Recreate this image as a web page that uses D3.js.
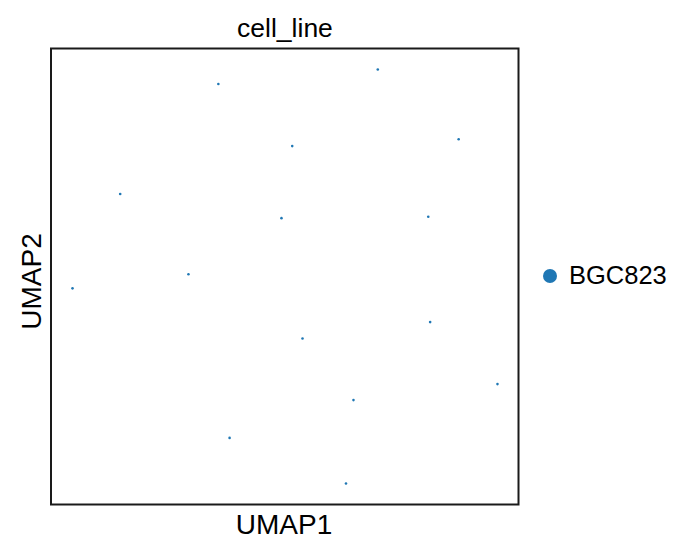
<!DOCTYPE html>
<html>
<head>
<meta charset="utf-8">
<script src="https://cdn.jsdelivr.net/npm/d3@7"></script>
<style>
  body { margin: 0; background: #fff; }
  text { font-family: "Liberation Sans", Arial, sans-serif; fill: #000; }
</style>
</head>
<body>
<svg id="chart" width="695" height="556"></svg>
<script>
// Data (UMAP coordinates, arbitrary units)
const umap1 = [3.58, 1.48, 2.94, 6.99, 8.72, 5.16, 4.93, 8.07, 0.46, 3.82, 8.11, 5.38, 9.55, 6.47, 6.31];
const umap2 = [9.22, 6.81, 5.05, 9.54, 8.01, 7.86, 6.28, 6.31, 4.74, 1.46, 4.00, 3.64, 2.64, 2.29, 0.46];
const categories = ["BGC823"];
const cellLine = umap1.map(() => "BGC823");
const colors = ["#1f77b4"];
const title = "cell_line";
const xLabel = "UMAP1";
const yLabel = "UMAP2";

const svg = d3.select("#chart");
const frame = { left: 51, right: 518.5, top: 48.5, bottom: 504.5 };

const x = d3.scaleLinear().domain([0, 10]).range([frame.left, frame.right]);
const y = d3.scaleLinear().domain([0, 10]).range([frame.bottom, frame.top]);
const color = d3.scaleOrdinal().domain(categories).range(colors);

const points = umap1.map((v, i) => ({ u1: v, u2: umap2[i], cat: cellLine[i] }));

svg.append("g").selectAll("circle").data(points).join("circle")
  .attr("cx", d => x(d.u1))
  .attr("cy", d => y(d.u2))
  .attr("r", 1.3)
  .attr("fill", d => color(d.cat));

svg.append("rect")
  .attr("x", frame.left).attr("y", frame.top)
  .attr("width", frame.right - frame.left)
  .attr("height", frame.bottom - frame.top)
  .attr("fill", "none").attr("stroke", "#1a1a1a").attr("stroke-width", 2);

svg.append("text").attr("x", 285).attr("y", 37.3)
  .attr("text-anchor", "middle").style("font-size", "26.5px").text(title);

svg.append("text").attr("x", 284).attr("y", 534.3)
  .attr("text-anchor", "middle").style("font-size", "28px").text(xLabel);

svg.append("text").attr("transform", `translate(41.3, 281.5) rotate(-90)`)
  .attr("text-anchor", "middle").style("font-size", "28px").text(yLabel);

const legend = svg.append("g").selectAll("g").data(categories).join("g")
  .attr("transform", (d, i) => `translate(550, ${276 + i * 30})`);
legend.append("circle").attr("r", 7).attr("fill", d => color(d));
legend.append("text").attr("x", 19).attr("y", 8.3).style("font-size", "25.5px").text(d => d);
</script>
</body>
</html>
